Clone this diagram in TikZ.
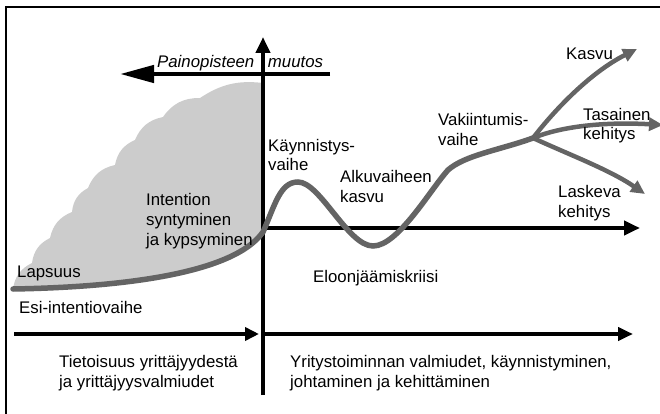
\documentclass[tikz,border=0pt]{standalone}
\usepackage{fontspec}
\setmainfont{Liberation Sans}
\usetikzlibrary{arrows.meta}

\definecolor{curvegray}{RGB}{100,100,100}
\definecolor{phasefill}{RGB}{204,204,204}

\tikzset{
  frame/.style={line width=1.2pt},
  axis/.style={line width=4.5pt, -{Triangle[length=16pt,width=14pt]}},
  growth/.style={line width=5.5pt, draw=curvegray, line cap=round},
  branch/.style={line width=4.5pt, draw=curvegray, -{Triangle[length=14pt,width=13pt]}},
  lbl/.style={anchor=base west, align=left, inner sep=0pt,
    font=\fontsize{16.8}{20}\selectfont}
}

\begin{document}
\begin{tikzpicture}[x=1pt,y=-1pt]
  \useasboundingbox (0,0) rectangle (660,414);

  % frame
  \draw[frame] (6,414) -- (6,7) -- (660,7);

  % points of the axes
  \coordinate (vbot) at (263,395);
  \coordinate (vtop) at (263,37);
  \coordinate (shiftR) at (330,74);
  \coordinate (shiftL) at (120,74);
  \coordinate (origin) at (263,228);
  \coordinate (midend) at (640,228);
  \coordinate (lowstart) at (14,334);
  \coordinate (lowend) at (259,334);
  \coordinate (highstart) at (263,334);
  \coordinate (highend) at (633,334);

  % points of the curve
  \coordinate (c0) at (13,289);
  \coordinate (cross) at (263,232);
  \coordinate (peak) at (298,182);
  \coordinate (trough) at (373,246);
  \coordinate (elbow) at (448,170);
  \coordinate (fork) at (533,138);
  \coordinate (up) at (637,49);
  \coordinate (flat) at (663,125);
  \coordinate (down) at (645,194);

  % grey pre-phase area with scalloped edge
  \fill[phasefill] (263,83) -- (cross)
    .. controls (235,272) and (130,287) .. (c0)
    to[bend left=28] (32,263) to[bend left=28] (50,238)
    to[bend left=28] (72,212) to[bend left=28] (88,188)
    to[bend left=28] (115,165) to[bend left=28] (135,140)
    to[bend left=28] (163,117) to[bend left=28] (200,98)
    to[bend left=20] (263,83) -- cycle;

  % axes
  \draw[axis] (vbot) -- (vtop);
  \draw[line width=4.5pt, -{Triangle[length=34pt,width=17pt]}] (shiftR) -- (shiftL);
  \draw[axis] (origin) -- (midend);
  \draw[axis, -{Triangle[length=14pt,width=13pt]}] (lowstart) -- (lowend);
  \draw[axis, -{Triangle[length=15pt,width=13pt]}] (highstart) -- (highend);

  % development curve
  \draw[growth] (c0)
    .. controls (130,287) and (235,272) .. (cross)
    .. controls (275,205) and (280,182) .. (peak)
    .. controls (320,182) and (348,246) .. (trough)
    .. controls (398,246) and (430,190) .. (elbow)
    .. controls (465,155) and (500,150) .. (fork);
  \draw[branch] (fork) .. controls (560,103) and (595,70) .. (up);
  \draw[branch] (fork) .. controls (565,125) and (610,122) .. (flat);
  \draw[branch] (fork) .. controls (570,155) and (610,170) .. (down);

  % labels (base = last line)
  \node[lbl] (painopiste) at (157,68) {\itshape Painopisteen\hspace{9pt} muutos};
  \node[lbl] (kaynnistys) at (268,171) {Käynnistys-\\vaihe};
  \node[lbl] (intentio) at (146,245) {Intention\\syntyminen\\ja kypsyminen};
  \node[lbl] (lapsuus) at (17,277) {Lapsuus};
  \node[lbl] (esi) at (19,313) {Esi-intentiovaihe};
  \node[lbl] (tietoisuus) at (59,387) {Tietoisuus yrittäjyydestä\\ja yrittäjyysvalmiudet};
  \node[lbl] (valmiudet) at (290,387) {Yritystoiminnan valmiudet, käynnistyminen,\\johtaminen ja kehittäminen};
  \node[lbl] (kriisi) at (313,282) {Eloonjäämiskriisi};
  \node[lbl] (alku) at (340,202) {Alkuvaiheen\\kasvu};
  \node[lbl] (vakiintumis) at (438,146) {Vakiintumis-\\vaihe};
  \node[lbl] (kasvu) at (566,60) {Kasvu};
  \node[lbl] (tasainen) at (583,140) {Tasainen\\kehitys};
  \node[lbl] (laskeva) at (558,217) {Laskeva\\kehitys};
\end{tikzpicture}
\end{document}
